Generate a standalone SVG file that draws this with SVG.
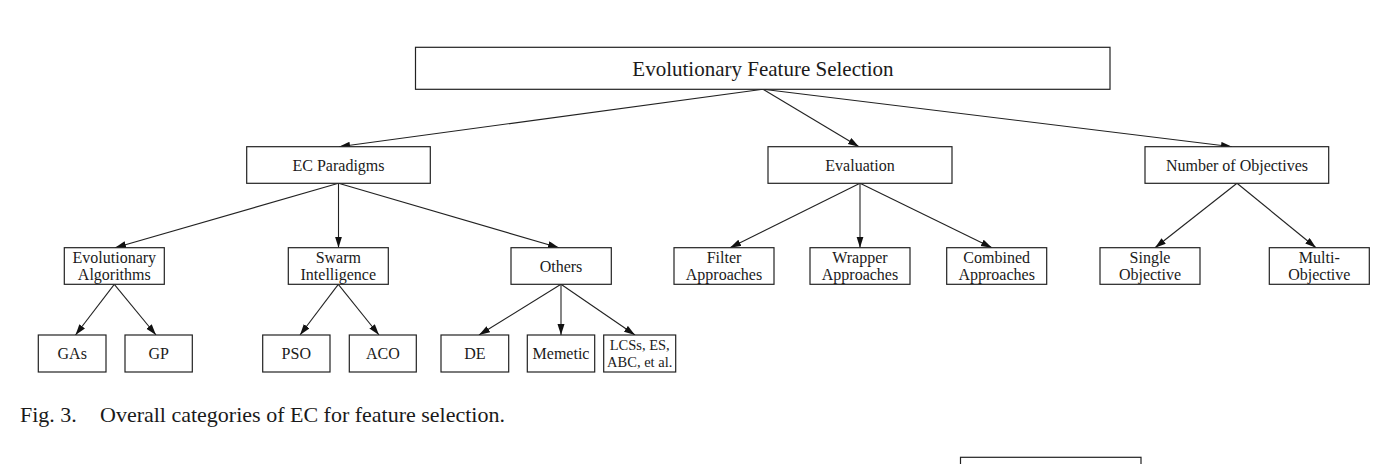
<svg xmlns="http://www.w3.org/2000/svg" width="1382" height="464" viewBox="0 0 1382 464">
<style>
.box{fill:#fff;stroke:#222;stroke-width:1.2}
.lbl{font-family:"Liberation Serif","Times New Roman",serif;font-size:16px;fill:#1a1a1a;text-anchor:middle}
.top{font-size:21px}
.sm{font-size:14.5px}
.edge{stroke:#222;stroke-width:1.1;fill:none;marker-end:url(#ah)}
.cap{font-family:"Liberation Serif","Times New Roman",serif;font-size:22px;fill:#1a1a1a}
</style>
<defs>
<marker id="ah" markerUnits="userSpaceOnUse" markerWidth="12" markerHeight="8" refX="11" refY="3.5" orient="auto">
<path d="M0,0 L11,3.5 L0,7 z" fill="#111"/>
</marker>
</defs>
<rect width="1382" height="464" fill="#fff"/>
<g id="connectors">
<line class="edge" x1="763" y1="89.3" x2="339" y2="146.7"/>
<line class="edge" x1="763" y1="89.3" x2="859" y2="146.7"/>
<line class="edge" x1="763" y1="89.3" x2="1232" y2="146.7"/>
<line class="edge" x1="338.5" y1="183.3" x2="115" y2="247.7"/>
<line class="edge" x1="338.5" y1="183.3" x2="338.5" y2="247.7"/>
<line class="edge" x1="338.5" y1="183.3" x2="559" y2="247.7"/>
<line class="edge" x1="860" y1="183.3" x2="730" y2="247.7"/>
<line class="edge" x1="860" y1="183.3" x2="860" y2="247.7"/>
<line class="edge" x1="860" y1="183.3" x2="992" y2="247.7"/>
<line class="edge" x1="1237" y1="183.3" x2="1155" y2="247.7"/>
<line class="edge" x1="1237" y1="183.3" x2="1316" y2="247.7"/>
<line class="edge" x1="114.3" y1="284.3" x2="75.5" y2="335"/>
<line class="edge" x1="114.3" y1="284.3" x2="156" y2="335"/>
<line class="edge" x1="338.3" y1="284.3" x2="300" y2="335"/>
<line class="edge" x1="338.3" y1="284.3" x2="379" y2="335"/>
<line class="edge" x1="561" y1="284.3" x2="479" y2="335"/>
<line class="edge" x1="561" y1="284.3" x2="561" y2="335"/>
<line class="edge" x1="561" y1="284.3" x2="635" y2="335"/>
</g>
<g id="n-root"><rect class="box" x="415.5" y="47.3" width="694.5" height="42"/><text class="lbl top" x="763" y="75.5">Evolutionary Feature Selection</text></g>
<g id="n-ec"><rect class="box" x="246.7" y="146.7" width="183.6" height="36.6"/><text class="lbl" x="338.5" y="170.5">EC Paradigms</text></g>
<g id="n-eval"><rect class="box" x="768" y="146.7" width="184" height="36.6"/><text class="lbl" x="860" y="170.5">Evaluation</text></g>
<g id="n-noo"><rect class="box" x="1145" y="146.7" width="183.7" height="36.6"/><text class="lbl" x="1237" y="170.5">Number of Objectives</text></g>
<g id="n-ea"><rect class="box" x="64.3" y="247.7" width="100" height="36.6"/><text class="lbl" x="114.3" y="263">Evolutionary</text><text class="lbl" x="114.3" y="280">Algorithms</text></g>
<g id="n-si"><rect class="box" x="288.3" y="247.7" width="100" height="36.6"/><text class="lbl" x="338.3" y="263">Swarm</text><text class="lbl" x="338.3" y="280">Intelligence</text></g>
<g id="n-others"><rect class="box" x="511" y="247.7" width="100.3" height="36.6"/><text class="lbl" x="561" y="271.5">Others</text></g>
<g id="n-filter"><rect class="box" x="674" y="247.7" width="100" height="36.6"/><text class="lbl" x="724" y="263">Filter</text><text class="lbl" x="724" y="280">Approaches</text></g>
<g id="n-wrapper"><rect class="box" x="810" y="247.7" width="100" height="36.6"/><text class="lbl" x="860" y="263">Wrapper</text><text class="lbl" x="860" y="280">Approaches</text></g>
<g id="n-combined"><rect class="box" x="946.7" y="247.7" width="100" height="36.6"/><text class="lbl" x="996.7" y="263">Combined</text><text class="lbl" x="996.7" y="280">Approaches</text></g>
<g id="n-single"><rect class="box" x="1100" y="247.7" width="100" height="36.6"/><text class="lbl" x="1150" y="263">Single</text><text class="lbl" x="1150" y="280">Objective</text></g>
<g id="n-multi"><rect class="box" x="1269.3" y="247.7" width="100" height="36.6"/><text class="lbl" x="1319.3" y="263">Multi-</text><text class="lbl" x="1319.3" y="280">Objective</text></g>
<g id="n-gas"><rect class="box" x="38.3" y="335" width="67.7" height="37"/><text class="lbl" x="72.2" y="359">GAs</text></g>
<g id="n-gp"><rect class="box" x="125" y="335" width="67.3" height="37"/><text class="lbl" x="158.7" y="359">GP</text></g>
<g id="n-pso"><rect class="box" x="262.7" y="335" width="67.3" height="37"/><text class="lbl" x="296.3" y="359">PSO</text></g>
<g id="n-aco"><rect class="box" x="349.3" y="335" width="67" height="37"/><text class="lbl" x="382.8" y="359">ACO</text></g>
<g id="n-de"><rect class="box" x="441" y="335" width="67.7" height="37"/><text class="lbl" x="474.8" y="359">DE</text></g>
<g id="n-memetic"><rect class="box" x="527.3" y="335" width="67.4" height="37"/><text class="lbl" x="561" y="359">Memetic</text></g>
<g id="n-lcs"><rect class="box" x="603.7" y="335" width="72" height="37"/><text class="lbl sm" x="639.7" y="349.5">LCSs, ES,</text><text class="lbl sm" x="639.7" y="366.7">ABC, et al.</text></g>
<g id="n-partial"><rect class="box" x="960.5" y="457.3" width="180.5" height="20"/></g>
<text class="cap" x="20" y="421.5">Fig. 3.</text>
<text class="cap" x="100" y="421.5">Overall categories of EC for feature selection.</text>
</svg>
